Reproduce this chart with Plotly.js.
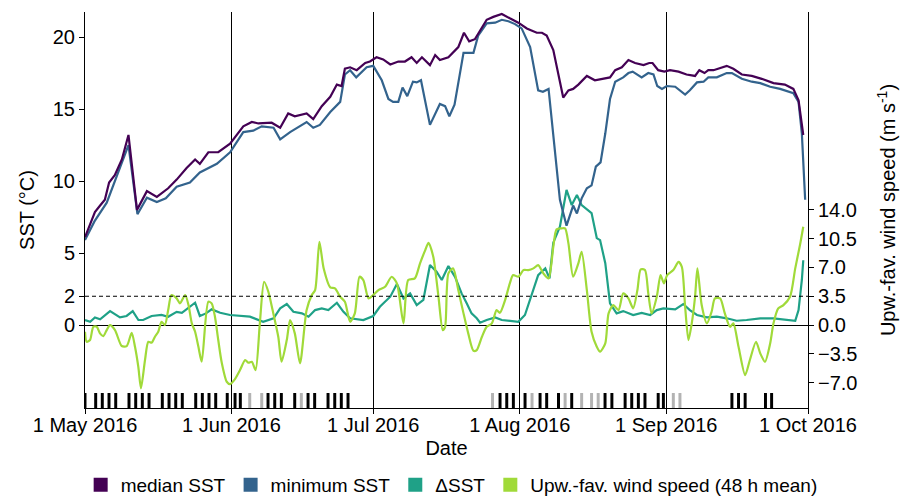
<!DOCTYPE html>
<html>
<head>
<meta charset="utf-8">
<script src="https://cdn.plot.ly/plotly-3.0.1.min.js"></script>
<style>
  html, body { margin: 0; padding: 0; background: #fff; }
  #chart { width: 901px; height: 496px; }
</style>
</head>
<body>
<div id="chart"></div>
<script>
// Time axis values are days since 1 May 2016 (fractional for the 48 h wind mean).
const medianDays = [0,2.1,3.2,4.2,5.1,6.3,7.8,9.2,11.0,13.1,15.2,17.6,19.4,21.5,23.3,24.3,26.1,28.2,30.7,33.5,35.3,36.7,39.5,41.3,43.0,44.4,46.9,48.3,50.1,51.9,53.3,54.3,55.0,56.1,57.5,59.3,60.3,61.7,63.1,64.6,66.3,67.7,69.1,70.2,71.3,73.0,74.1,75.1,76.9,79.0,80.2,81.3,82.5,85.0,86.4,88.2,89.9,91.7,93.5,95.6,96.7,97.7,99.1,100.5,101.2,102.3,103.3,104.4,106.2,107.9,109.4,111.1,112.2,113.6,115.0,116.4,118.2,119.4,120.1,121.3,122.6,123.8,125.6,127.3,129.1,130.0,131.1,131.9,133.0,134.0,135.8,137.2,139.0,141.1,143.2,145.7,148.1,149.9,151.0,152.0];
const medianSST = [6.1,7.85,8.3,8.7,9.9,10.4,11.5,13.2,8.0,9.3,8.9,9.5,10.1,10.9,11.5,11.2,12.0,12.0,12.6,13.8,14.1,14.0,14.05,13.7,14.7,14.5,14.7,14.3,15.2,15.85,16.7,16.6,17.8,17.9,17.7,18.2,18.3,18.6,18.45,18.1,18.3,18.3,18.6,18.2,18.6,18.05,18.75,18.4,18.6,19.3,20.3,19.7,19.85,21.2,21.4,21.6,21.3,21.0,20.6,20.3,20.3,20.1,19.1,17.0,15.8,16.3,16.4,16.7,17.3,17.0,17.1,17.2,17.7,17.9,18.4,18.2,18.05,18.2,18.2,17.7,17.6,17.7,17.6,17.4,17.3,17.7,17.5,17.7,17.7,17.8,18.0,17.8,17.4,17.3,17.1,16.8,16.7,16.4,15.6,13.2];

const minDays = [0,2.0,4.6,9.2,11.1,13.1,15.2,17.1,19.4,22.2,24.3,27.9,30.7,33.5,35.6,37.4,39.9,41.3,43.4,46.9,48.3,49.7,51.9,54.0,55.0,56.1,57.4,59.6,61.0,62.8,64.2,65.2,66.3,67.2,68.2,69.4,70.2,71.1,73.0,74.1,75.1,76.2,77.1,78.2,80.1,81.1,82.2,83.2,85.0,86.8,88.2,89.6,91.0,92.4,94.2,95.9,96.9,98.1,100.5,101.9,103.3,104.1,105.1,106.2,107.2,108.1,109.1,110.1,111.1,112.2,113.9,115.0,115.9,117.8,119.2,120.3,121.1,122.1,123.1,124.9,127.0,128.0,129.5,130.9,131.9,133.7,135.8,136.9,139.0,141.1,142.9,145.0,147.1,149.9,151.0,151.7,152.4];
const minSST = [5.9,7.2,8.5,12.5,7.7,8.85,8.55,8.8,9.6,9.9,10.6,11.2,12.0,13.4,13.5,13.8,13.7,12.9,13.4,14.1,13.7,13.9,14.8,15.5,17.4,17.7,17.2,17.9,18.0,17.0,15.7,15.5,15.5,16.5,15.9,16.9,16.85,17.0,13.9,14.7,15.35,15.2,14.5,15.3,18.9,18.9,18.9,20.1,20.95,21.0,21.2,21.1,20.9,20.6,19.3,16.3,16.2,16.4,8.7,6.9,8.3,7.75,8.8,9.5,9.7,11.0,11.3,13.3,15.7,16.9,17.2,17.5,17.6,17.2,17.5,17.4,16.6,16.4,16.6,16.55,16.0,16.3,16.85,16.9,17.2,17.2,17.5,17.5,17.1,16.9,16.8,16.55,16.4,16.1,15.5,13.3,8.7];

const deltaDays = [0,1.1,2.1,3.2,5.3,7.4,8.8,10.1,11.3,12.3,14.1,16.2,17.6,19.4,20.5,22.2,23.3,24.3,25.6,26.8,28.6,30.7,34.9,37.7,39.9,41.3,42.7,44.1,45.9,47.3,48.7,50.1,51.5,53.3,54.7,56.1,58.9,61.0,62.4,64.6,66.0,67.4,68.8,70.2,71.6,73.0,74.4,75.5,76.9,78.3,79.7,80.8,81.8,82.9,83.6,85.0,86.8,88.2,89.9,91.7,93.1,94.5,95.9,97.4,98.3,99.1,100.5,101.9,103.0,104.1,105.1,107.2,108.3,109.0,110.1,111.1,112.5,113.9,116.0,117.8,119.6,121.0,122.4,124.9,126.6,128.0,129.5,131.6,133.7,135.8,137.9,140.0,142.9,145.7,147.8,150.3,151.0,151.7,152.0];
const deltaSST = [0.35,0.23,0.53,0.4,0.97,0.53,0.63,0.97,0.35,0.35,0.63,0.7,0.58,0.92,0.85,1.27,1.55,0.63,0.81,1.09,0.85,0.7,0.58,0.23,0.47,1.16,1.46,0.92,0.81,0.58,1.04,1.16,1.04,1.55,0.92,0.47,0.35,0.63,1.27,1.97,2.85,1.85,2.2,1.39,1.74,4.17,3.7,3.13,4.1,3.35,2.2,1.5,0.81,0.47,0.16,0.35,0.53,0.35,0.3,0.23,0.7,2.08,3.47,3.94,3.24,5.72,6.83,9.38,8.33,9.03,8.33,7.78,6.04,5.9,4.3,1.5,0.81,0.97,0.7,0.85,0.7,1.04,1.16,1.09,1.46,1.04,0.7,0.53,0.58,0.47,0.3,0.35,0.47,0.47,0.4,0.3,1.04,3.13,4.5];

const windDays = [0,0.36,1.06,1.76,2.48,3.17,3.87,4.59,5.29,6.35,7.77,8.83,9.88,10.58,11.28,11.85,12.7,13.4,14.1,14.8,15.5,16.2,16.9,17.6,18.3,19.4,20.1,21.2,21.9,22.6,23.3,24.0,24.7,26.1,26.8,27.5,28.2,28.9,30.0,30.7,31.7,32.8,33.9,34.6,35.3,36.1,37.0,37.9,38.8,39.7,40.9,41.6,42.7,43.4,44.4,45.5,46.9,48.0,48.7,49.6,50.5,51.9,52.9,54.0,55.0,56.1,57.1,58.1,58.9,60.0,61.0,62.1,63.5,64.9,66.0,67.4,68.4,69.8,70.9,72.0,72.7,73.7,74.8,75.7,76.2,76.9,77.9,79.0,80.1,81.1,82.2,82.9,84.0,85.0,86.1,87.1,87.8,88.9,89.9,90.6,91.7,92.8,93.8,94.9,95.9,97.0,98.1,99.1,99.8,100.9,101.6,102.3,103.3,104.4,105.1,106.2,107.2,108.3,109.0,110.1,110.8,111.8,112.9,113.9,115.0,116.0,116.9,117.6,118.5,119.2,119.9,121.0,121.8,122.5,123.2,124.5,125.6,126.3,127.0,127.7,128.4,129.1,129.6,130.5,131.6,132.6,133.3,134.4,135.4,136.5,137.2,138.3,139.7,140.7,142.0,142.9,143.9,145.0,145.7,146.7,147.8,149.2,150.3,151.3,152.0];
const windSpeed = [-0.81,-2.03,-1.82,-0.21,-0.21,-1.01,-1.34,-0.61,0,-0.61,-2.55,-2.55,-0.94,-2.64,-5.07,-7.69,-4.25,-2.03,-2.15,-1.42,-0.81,0.4,0,1.82,3.65,3.24,2.64,3.65,2.43,0.21,-0.81,-2.64,-4.46,2.83,2.64,1.01,-1.82,-4.46,-6.89,-7.17,-6.6,-5.47,-4.25,-4.58,-4.46,-5.47,0.21,5.26,4.05,1.82,-1.42,-4.46,-1.82,0.61,-1.01,-4.65,1.82,3.65,4.25,10.1,6.9,4.58,4.46,3.44,2.83,0.4,1.42,5.87,5.47,3.24,3.65,4.25,4.65,5.87,5.07,0.21,5.47,5.67,7.5,9.11,10.0,8.3,3.44,-0.61,-0.21,6.28,6.89,4.25,1.42,-1.01,-3.12,-3.04,-1.42,-0.21,0.21,1.82,1.49,3.04,5.07,6.08,5.87,6.68,6.68,6.89,7.29,6.28,5.67,9.51,11.63,11.75,11.75,9.93,5.87,7.5,8.91,4.25,-0.81,-2.64,-3.24,-2.22,1.42,2.43,1.82,3.85,3.24,2.03,4.25,6.77,6.68,3.85,1.42,3.44,6.08,5.07,6.08,6.68,7.69,7.08,2.22,-1.82,0.21,3.44,6.89,2.43,0.21,1.62,3.24,3.24,1.42,-0.21,0.21,-2.64,-6.08,-4.25,-2.03,-3.44,-4.46,-2.22,0.21,2.03,2.43,3.44,6.89,9.72,11.95];

// Day strip along the bottom of the panel (black and grey days).
const stripDaysBlack = [0,2.26,3.66,5.08,6.5,9.31,10.73,12.13,13.55,16.36,17.78,19.2,20.59,23.43,24.83,26.24,27.66,30.1,31.75,32.87,38.73,40.15,41.55,44.38,47.2,48.6,51.43,52.85,54.24,55.66,87.83,89.25,90.65,93.12,96.3,97.7,100.2,103.0,110.05,111.5,114.3,115.7,117.1,118.5,121.3,122.4,136.9,138.3,139.7,144.0,145.3];
const stripDaysGrey = [34.86,37.4,45.78,86.24,94.6,101.6,105.1,107.2,108.6,124.5,125.9];

const monthTicks = ['2016-05-01','2016-06-01','2016-07-01','2016-08-01','2016-09-01','2016-10-01'];
const monthLabels = ['1 May 2016','1 Jun 2016','1 Jul 2016','1 Aug 2016','1 Sep 2016','1 Oct 2016'];
const sstTicks = [0,2,5,10,15,20];
const windTicks = [-7,-3.5,0,3.5,7,10.5,14];

const seriesNames = ['median SST','minimum SST','\u0394SST','Upw.-fav. wind speed (48 h mean)'];
const seriesColors = ['#440154','#33638D','#1FA187','#A0DA39'];

const DAY_MS = 86400000;
const START_MS = Date.UTC(2016, 4, 1);
function toDate(d) {
  return new Date(START_MS + d * DAY_MS).toISOString().slice(0, 19).replace('T', ' ');
}

// Left axis (SST) and right axis (wind) share the same zero; 1 °C = 1.75 m/s.
const sstRange = [-5.76, 21.74];
const windScale = 1.75;
const windRange = [sstRange[0] * windScale, sstRange[1] * windScale];
const stripHeight = 1.04;

function stripTrace(days, color) {
  return {
    type: 'bar', x: days.map(toDate), y: days.map(() => stripHeight),
    base: sstRange[0], width: 0.63 * DAY_MS,
    marker: { color: color, line: { width: 0 } },
    showlegend: false, hoverinfo: 'skip', yaxis: 'y'
  };
}

function lineTrace(days, vals, i, axis, smooth) {
  const line = { color: seriesColors[i], width: 2.2 };
  if (smooth) { line.shape = 'spline'; line.smoothing = 0.7; }
  return {
    type: 'scatter', mode: 'lines', x: days.map(toDate), y: vals,
    line: line, showlegend: false, yaxis: axis
  };
}

function legendTrace(i) {
  return {
    type: 'scatter', mode: 'markers', x: [null], y: [null], name: seriesNames[i],
    marker: { symbol: 'square', size: 14, color: seriesColors[i] },
    showlegend: true
  };
}

const traces = [
  stripTrace(stripDaysBlack, '#000000'),
  stripTrace(stripDaysGrey, '#b3b3b3'),
  lineTrace(deltaDays, deltaSST, 2, 'y', false),
  lineTrace(minDays, minSST, 1, 'y', false),
  lineTrace(medianDays, medianSST, 0, 'y', false),
  lineTrace(windDays, windSpeed, 3, 'y2', true),
  legendTrace(0), legendTrace(1), legendTrace(2), legendTrace(3)
];

const FONT = 'Liberation Sans, Arial, sans-serif';
const TXT = { family: FONT, size: 20, color: '#000000' };

const layout = {
  width: 901, height: 496,
  margin: { l: 85, r: 93, t: 12, b: 88, autoexpand: false },
  paper_bgcolor: '#ffffff', plot_bgcolor: '#ffffff',
  font: TXT,
  showlegend: true,
  legend: {
    orientation: 'h', xref: 'paper', yref: 'paper',
    x: -0.006, xanchor: 'left', y: -0.194, yanchor: 'middle',
    font: { family: FONT, size: 19, color: '#000000' },
    itemwidth: 30, tracegroupgap: 0
  },
  xaxis: {
    type: 'date', range: ['2016-05-01', '2016-10-01'],
    tickvals: monthTicks, ticktext: monthLabels,
    ticks: 'outside', ticklen: 5, tickcolor: '#000000',
    ticklabelstandoff: -6,
    showgrid: true, gridcolor: '#000000', gridwidth: 1,
    showline: true, linecolor: '#000000', linewidth: 1,
    zeroline: false, automargin: true,
    tickfont: TXT,
    title: { text: 'Date', font: TXT, standoff: 5 }
  },
  yaxis: {
    range: sstRange, tickvals: sstTicks,
    ticks: 'outside', ticklen: 5, tickcolor: '#000000',
    showgrid: false, zeroline: true, zerolinecolor: '#000000', zerolinewidth: 1,
    showline: true, linecolor: '#000000', linewidth: 1, automargin: true,
    tickfont: TXT,
    title: { text: 'SST (\u00B0C)', font: TXT, standoff: 12 }
  },
  yaxis2: {
    overlaying: 'y', side: 'right', range: windRange,
    tickvals: windTicks, tickformat: '.1f',
    ticks: 'outside', ticklen: 5, tickcolor: '#000000',
    showgrid: false, zeroline: false, automargin: true,
    showline: true, linecolor: '#000000', linewidth: 1,
    tickfont: TXT,
    title: { text: 'Upw.-fav. wind speed (m s<sup>-1</sup>)', font: TXT, standoff: 24 }
  },
  shapes: [
    { type: 'line', xref: 'paper', x0: 0, x1: 1, yref: 'y', y0: 2, y1: 2,
      line: { color: '#000000', width: 1, dash: '4px,3px' } }
  ]
};

Plotly.newPlot('chart', traces, layout, { staticPlot: true, displayModeBar: false });
</script>
</body>
</html>
